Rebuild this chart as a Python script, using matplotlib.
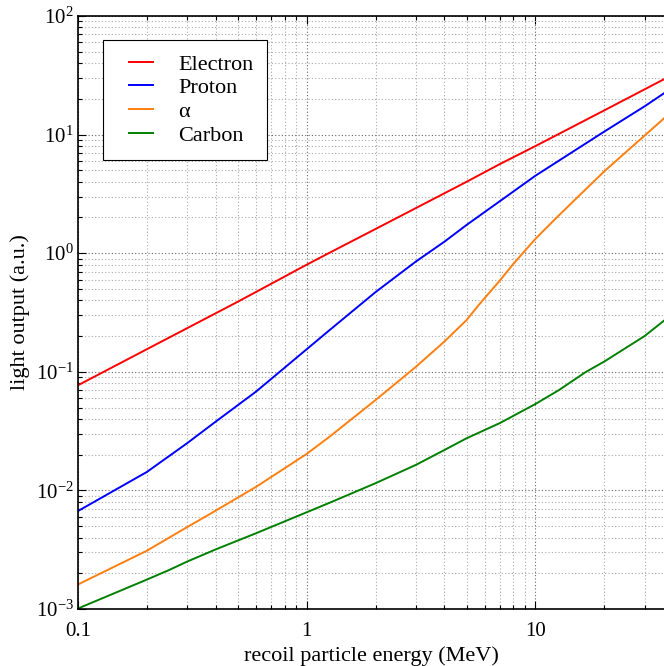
import matplotlib
matplotlib.use("Agg")
import matplotlib.pyplot as plt
from matplotlib.lines import Line2D
from matplotlib.legend_handler import HandlerLine2D
from matplotlib.ticker import LogLocator, NullFormatter

plt.rcParams['font.family'] = 'serif'
plt.rcParams['font.serif'] = ['Liberation Serif', 'DejaVu Serif']
plt.rcParams['mathtext.fontset'] = 'stix'

# 読み取った値 (MeV, a.u.)
electron_e = [0.1, 0.2, 0.5, 1, 1.26, 2, 5, 7, 10, 20, 36.5]
electron_l = [0.077, 0.155, 0.39, 0.80, 1.01, 1.60, 4.0, 5.65, 8.0, 16.0, 29.3]

proton_e = [0.1, 0.2, 0.3, 0.4, 0.6, 1, 1.26, 2, 3, 4, 5, 7, 10, 20, 30, 36.5]
proton_l = [0.0067, 0.0143, 0.025, 0.038, 0.068, 0.155, 0.225, 0.47, 0.85,
            1.25, 1.73, 2.75, 4.5, 10.6, 17.3, 22.3]

alpha_e = [0.1, 0.2, 0.3, 0.4, 0.6, 1, 1.26, 2, 3, 4, 5, 5.7, 7, 8, 9, 10,
           11.9, 14.1, 20, 30, 36.5]
alpha_l = [0.00161, 0.0031, 0.0049, 0.00675, 0.0107, 0.0203, 0.0284, 0.0578,
           0.110, 0.18, 0.273, 0.373, 0.59, 0.81, 1.05, 1.32, 1.85, 2.55,
           4.9, 9.8, 13.7]

carbon_e = [0.1, 0.2, 0.25, 0.3, 0.4, 0.6, 1, 1.26, 2, 3, 4, 5, 7, 10, 12.7,
            16.6, 20, 30, 36.5]
carbon_l = [0.00101, 0.00177, 0.00213, 0.00251, 0.00318, 0.00435, 0.00654,
            0.00787, 0.0115, 0.0164, 0.0219, 0.0275, 0.0370, 0.0535, 0.0703,
            0.0996, 0.122, 0.200, 0.27]

labels = ['Electron', 'Proton', 'α', 'Carbon']
colors = ['#ff0000', '#0000ff', '#ff7f0e', '#008000']

fig = plt.figure(figsize=(6.64, 6.66), dpi=100)
ax = fig.add_axes([78 / 664, 57 / 666, 586 / 664, 593 / 666])

series = [(electron_e, electron_l), (proton_e, proton_l),
          (alpha_e, alpha_l), (carbon_e, carbon_l)]
for (e, l), lab, c in zip(series, labels, colors):
    ax.plot(e, l, color=c, lw=1.4, label=lab)

ax.set_xscale('log')
ax.set_yscale('log')
ax.set_xlim(0.1, 36.5)
ax.set_ylim(1e-3, 1e2)

ax.set_xticks([0.1, 1, 10])
ax.set_xticklabels(['0.1', '1', '10'])
ax.xaxis.set_minor_locator(LogLocator(base=10, subs=range(2, 10), numticks=20))
ax.xaxis.set_minor_formatter(NullFormatter())
ax.yaxis.set_major_locator(LogLocator(base=10, numticks=10))
ax.yaxis.set_minor_locator(LogLocator(base=10, subs=range(2, 10), numticks=20))
ax.yaxis.set_minor_formatter(NullFormatter())

ax.tick_params(which='both', direction='in', top=True, right=False,
               labelsize=15, width=0.8)
ax.tick_params(which='major', length=6)
ax.tick_params(which='minor', length=3)
ax.tick_params(axis='x', which='major', pad=9)
ax.tick_params(axis='y', which='major', pad=3)

# グリッド
ax.grid(True, which='major', color='#666666', linestyle=(0, (1, 2)), lw=0.8)
ax.grid(True, which='minor', color='#aaaaaa', linestyle=(0, (1, 2)), lw=0.8)

ax.spines['right'].set_visible(False)
for s in ['left', 'bottom', 'top']:
    ax.spines[s].set_linewidth(1.2)

ax.set_xlabel('recoil particle energy (MeV)', fontsize=16, labelpad=4)
ax.set_ylabel('light output (a.u.)', fontsize=16, labelpad=4)

leg = ax.legend(loc='upper left', bbox_to_anchor=(25 / 586, 1 - 24 / 593),
                fontsize=16, fancybox=False, framealpha=1, edgecolor='black',
                handlelength=1.62, handletextpad=1.13, borderpad=0.63,
                labelspacing=0.14, borderaxespad=0,
                handler_map={Line2D: HandlerLine2D(xpad=0.54)})
leg.get_frame().set_linewidth(0.8)

plt.savefig('out.png', dpi=100)
